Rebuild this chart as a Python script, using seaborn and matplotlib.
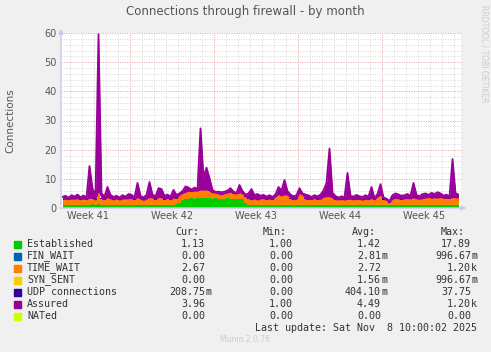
import numpy as np
import matplotlib
matplotlib.use("Agg")
import matplotlib.pyplot as plt
import seaborn as sns
from matplotlib.patches import Rectangle

# values every 6 hours over the month (133 samples)
assured = [3.8, 4.2, 3.5, 4.4, 3.9, 4.6, 3.7, 4.3, 3.6, 14.4,
           6.8, 4.2, 59.6, 5.0, 4.0, 7.2, 4.5, 3.8, 4.2, 3.6,
           4.4, 3.9, 4.8, 4.5, 3.7, 8.6, 4.2, 3.6, 4.5, 8.9,
           4.6, 4.0, 6.8, 6.5, 4.2, 4.6, 3.9, 6.2, 4.5,
           5.0, 5.8, 7.4, 7.0, 6.3, 7.0, 6.5, 27.3, 10.6, 13.8, 10.3,
           6.2, 5.5, 5.6, 5.4, 5.6, 6.0, 6.8, 5.6, 5.2, 7.9, 5.8,
           4.6, 5.0, 6.5, 4.4, 4.8, 4.2, 4.5, 3.9, 4.4, 3.8,
           4.6, 7.2, 6.0, 9.6, 5.8, 4.6, 4.0, 4.4, 6.8, 5.0,
           4.6, 4.3, 3.8, 4.4, 4.0, 4.6, 6.0, 8.6, 20.4, 5.2,
           4.1, 3.6, 4.0, 3.7, 12.0, 4.2, 3.9, 4.5, 4.0, 3.8,
           4.4, 3.9, 7.2, 3.4, 4.8, 8.2, 3.6, 3.2, 2.4, 4.4,
           5.0, 4.6, 4.2, 4.4, 4.8, 4.2, 8.6, 4.5, 4.0, 4.8,
           5.0, 4.5, 5.2, 4.8, 5.4, 5.0, 4.2, 4.6, 3.9, 16.8, 5.1, 4.6]

established = [1.1, 1.0, 1.1, 1.2, 1.0, 1.1, 1.0, 1.2, 1.1, 1.0,
               1.3, 1.1, 1.4, 1.1, 1.0, 1.2, 1.1, 1.0, 1.1, 1.0,
               1.1, 1.2, 1.0, 1.1, 1.0, 1.1, 1.2, 1.0, 1.1, 1.0,
               1.2, 1.1, 1.0, 1.1, 1.0, 1.2, 1.1, 1.0, 1.3,
               1.8, 2.6, 3.1, 3.2, 3.3, 3.2, 3.4, 3.3, 3.5, 3.4, 3.3,
               3.2, 3.3, 3.2, 3.1, 3.2, 3.3, 3.2, 3.1, 3.2, 3.1, 3.0, 1.8,
               1.1, 1.0, 1.1, 1.0, 1.2, 1.1, 1.0, 1.1, 1.0,
               1.1, 1.2, 1.1, 1.0, 1.1, 1.0, 1.1, 1.2, 1.0, 1.1,
               1.0, 1.1, 1.0, 1.2, 1.1, 1.0, 1.1, 1.0, 1.1, 1.2,
               1.0, 1.1, 1.0, 1.1, 1.0, 1.2, 1.1, 1.0, 1.1, 1.0,
               1.1, 1.0, 1.2, 1.1, 1.0, 1.1, 1.0, 1.1, 1.0, 1.1,
               1.2, 1.1, 1.0, 1.1, 1.0, 1.1, 1.2, 1.0, 1.1, 1.0,
               1.1, 1.2, 1.1, 1.0, 1.1, 1.2, 1.1, 1.0, 1.1, 1.0, 1.1, 1.1]

time_wait = [1.8, 2.0, 1.7, 1.9, 2.0, 2.1, 1.8, 1.9, 1.7, 2.4,
             1.9, 1.6, 4.2, 2.0, 1.8, 2.4, 2.0, 1.8, 2.0, 1.7,
             2.0, 1.9, 2.2, 2.1, 1.8, 2.5, 1.8, 1.6, 2.0, 2.6,
             2.2, 1.8, 2.6, 2.4, 1.9, 2.1, 1.7, 2.4, 1.9,
             2.6, 2.4, 2.3, 2.6, 2.3, 2.6, 2.4, 2.9, 2.6, 2.8, 2.5,
             2.0, 1.8, 1.6, 1.4, 1.7, 1.9, 2.2, 1.8, 1.6, 2.1, 1.8,
             1.9, 2.1, 1.8, 2.0, 1.7, 1.9, 2.1, 1.8, 2.0, 1.8,
             2.8, 3.4, 3.0, 3.6, 3.2, 2.2, 1.7, 1.8, 4.0, 3.2,
             2.0, 1.8, 1.9, 2.1, 1.8, 2.0, 2.6, 2.9, 2.8, 2.2,
             1.8, 1.7, 1.9, 1.6, 2.0, 1.8, 1.7, 1.9, 1.8, 1.7,
             1.9, 1.8, 2.1, 1.7, 2.8, 3.3, 1.9, 1.5, 0.8, 1.9,
             2.1, 2.0, 1.9, 2.1, 2.2, 2.0, 2.3, 2.1, 1.9, 2.2,
             2.3, 2.4, 2.2, 2.5, 2.3, 2.4, 2.2, 2.3, 2.1, 2.6, 2.4, 2.3]

n = len(assured)
fin_wait = [0.0] * n
syn_sent = [0.0] * n
udp = [0.4] * n
nated = [0.0] * n

names = ["Established", "FIN_WAIT", "TIME_WAIT", "SYN_SENT",
         "UDP connections", "Assured", "NATed"]
colors = ["#00CC00", "#0066B3", "#FF8000", "#FFCC00", "#330099", "#990099", "#CCFF00"]
cur = ["1.13", "0.00", "2.67", "0.00", "208.75m", "3.96", "0.00"]
mins = ["1.00", "0.00", "0.00", "0.00", "0.00", "1.00", "0.00"]
avgs = ["1.42", "2.81m", "2.72", "1.56m", "404.10m", "4.49", "0.00"]
maxs = ["17.89", "996.67m", "1.20k", "996.67m", "37.75", "1.20k", "0.00"]

week_labels = ["Week 41", "Week 42", "Week 43", "Week 44", "Week 45"]

W, H = 491, 352
sns.set_theme(style="white")
plt.rcParams["font.family"] = ["DejaVu Sans"]

fig = plt.figure(figsize=(W / 100, H / 100), dpi=100, facecolor="#F0F0F0")
ax = fig.add_axes([61 / W, 1 - 208 / H, 400 / W, 175 / H])
ax.set_facecolor("white")

t = np.arange(n) * 0.25 + 0.125  # days from left edge
span = 400 / 12

base = np.zeros(n)
for vals, col in zip([established, fin_wait, time_wait, syn_sent, udp],
                     colors[:5]):
    top = base + np.array(vals)
    ax.fill_between(t, base, top, step="mid", color=col, lw=0, zorder=2)
    base = top

orange_top = np.array(established) + np.array(time_wait)
ax.fill_between(t, orange_top, np.array(assured), interpolate=True,
                where=np.array(assured) > orange_top, color=colors[5], lw=0, zorder=3)
sns.lineplot(x=t, y=assured, ax=ax, color=colors[5], lw=1.3, zorder=4)
sns.lineplot(x=t, y=nated, ax=ax, color=colors[6], lw=1.0, zorder=5)

ax.set_xlim(0, span)
ax.set_ylim(0, 60)

# grid
for d in np.arange(0.75, span, 1.0):
    major = abs((d - 5.75) % 7) < 1e-6
    ax.axvline(d, color="#E8A0A0" if major else "#D8D8D8", lw=0.7,
               ls=(0, (1, 1.5)), zorder=1)
for v in range(2, 61, 2):
    major = v % 10 == 0
    ax.axhline(v, color="#E8A0A0" if major else "#D8D8D8", lw=0.7,
               ls=(0, (1, 1.5)), zorder=1)

for s in ax.spines.values():
    s.set_visible(False)

ax.set_yticks(range(0, 61, 10))
ax.set_yticklabels([str(v) for v in range(0, 61, 10)])
ax.set_xticks([2.25 + 7 * k for k in range(len(week_labels))])
ax.set_xticklabels(week_labels)
ax.tick_params(axis="both", length=0, labelsize=7, colors="#555555", pad=3)
ax.tick_params(axis="x", pad=2)

# axis lines with arrows
axc = "#C8C8F0"
ax.annotate("", xy=(0, 1.04), xytext=(0, 0), xycoords="axes fraction",
            arrowprops=dict(arrowstyle="-|>", color=axc, lw=1, mutation_scale=7),
            annotation_clip=False, zorder=6)
ax.annotate("", xy=(1.02, 0), xytext=(-0.01, 0), xycoords="axes fraction",
            arrowprops=dict(arrowstyle="-|>", color=axc, lw=1, mutation_scale=7),
            annotation_clip=False, zorder=6)

ax.set_ylabel("Connections", fontsize=7.5, color="#555555", labelpad=21)

fig.text(245 / W, 1 - 12 / H, "Connections through firewall - by month",
         ha="center", va="center", fontsize=8.5, color="#555555")
fig.text(484 / W, 1 - 5 / H, "RRDTOOL / TOBI OETIKER", rotation=270,
         ha="center", va="top", fontsize=5.5, color="#CCCCCC")


def px(x, y):
    return x / W, 1 - y / H


mono = "DejaVu Sans Mono"
fs = 7.2
tc = "#333333"
for label, x in zip(["Cur:", "Min:", "Avg:", "Max:"], [175, 263, 352, 441]):
    fig.text(*px(x, 232), label, family=mono, fontsize=fs, color=tc, va="center")


def put_num(s, xr, y):
    num, suf = (s[:-1], s[-1]) if s[-1] in "mk" else (s, "")
    fig.text(*px(xr, y), num, family=mono, fontsize=fs, color=tc,
             ha="right", va="center")
    if suf:
        fig.text(*px(xr, y), suf, family=mono, fontsize=fs, color=tc,
                 ha="left", va="center")


for k, name in enumerate(names):
    y = 244 + 12 * k
    fig.patches.append(Rectangle(px(14, y + 3.5), 7 / W, 7 / H,
                                 transform=fig.transFigure, color=colors[k]))
    fig.text(*px(27, y), name, family=mono, fontsize=fs, color=tc, va="center")
    put_num(cur[k], 205, y)
    put_num(mins[k], 293, y)
    put_num(avgs[k], 381, y)
    put_num(maxs[k], 471, y)

fig.text(*px(477, 328), "Last update: Sat Nov  8 10:00:02 2025", family=mono,
         fontsize=fs, color=tc, ha="right", va="center")
fig.text(*px(245, 340), "Munin 2.0.76", fontsize=5.5, color="#CCCCCC",
         ha="center", va="center")

fig.savefig("out.png", dpi=100, facecolor=fig.get_facecolor())
